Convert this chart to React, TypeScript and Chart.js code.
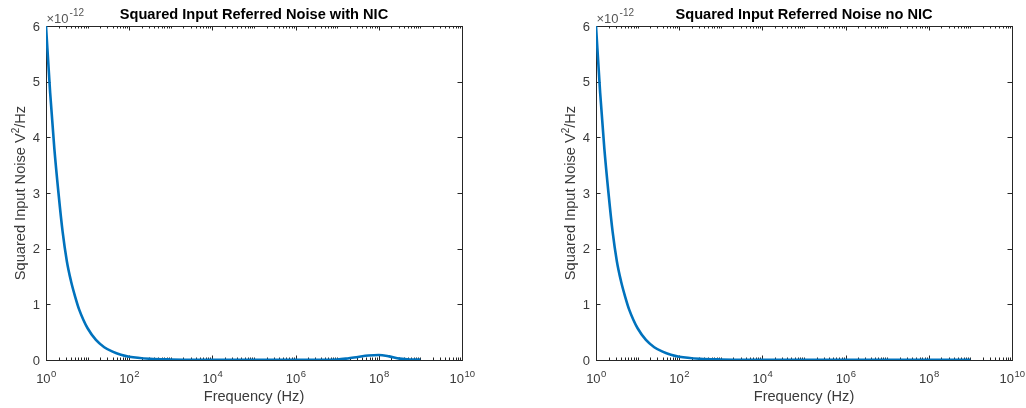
import React, { useEffect, useRef } from "react";
import { Chart, registerables } from "chart.js";

Chart.register(...registerables);

// ---- data (noise values in units of 1e-12 V^2/Hz) ----
const FREQ_HZ = [
  1, 1.259, 1.585, 1.995, 2.512, 3.162, 3.981, 5.012, 6.31, 7.943, 10, 15.85, 25.12, 39.81, 63.1, 100,
  316.2, 1000, 1e4, 1e5, 1e6, 1e7, 1.778e7, 3.162e7, 5.623e7, 1e8, 1.778e8, 3.162e8, 5.623e8, 1e9,
];
const NOISE_WITH_NIC = [
  6.0, 4.8, 3.8, 3.0, 2.3, 1.78, 1.42, 1.14, 0.9, 0.72, 0.57, 0.36, 0.23, 0.15, 0.095, 0.06,
  0.022, 0.01, 0.005, 0.004, 0.004, 0.01, 0.028, 0.055, 0.08, 0.09, 0.065, 0.025, 0.008, 0.006,
];
const NOISE_NO_NIC = [
  6.0, 4.8, 3.8, 3.0, 2.3, 1.78, 1.42, 1.14, 0.9, 0.72, 0.57, 0.36, 0.23, 0.15, 0.095, 0.06,
  0.022, 0.01, 0.005, 0.004, 0.004, 0.004, 0.004, 0.004, 0.004, 0.004, 0.004, 0.004, 0.004, 0.004,
];
const X_MAJOR_EXP = [0, 2, 4, 6, 8, 10];
const Y_TICKS = [0, 1, 2, 3, 4, 5, 6];
const TITLES = ["Squared Input Referred Noise with NIC", "Squared Input Referred Noise no NIC"];
const X_LABEL = "Frequency (Hz)";
const Y_EXPONENT = "-12";

const FONT = "'Liberation Sans', Arial, Helvetica, sans-serif";
const AXIS_COLOR = "#262626";
const TEXT_COLOR = "#3a3a3a";
const LINE_COLOR = "#0072BD";

const decorPlugin = {
  id: "matlabDecor",
  beforeDatasetsDraw(chart: any) {
    const { ctx, chartArea: a, scales } = chart;
    const xs = scales.x;
    const ys = scales.y;
    ctx.save();
    ctx.strokeStyle = AXIS_COLOR;
    ctx.lineWidth = 1;
    ctx.strokeRect(Math.round(a.left) + 0.5, Math.round(a.top) + 0.5, Math.round(a.right - a.left), Math.round(a.bottom - a.top));
    ctx.beginPath();
    for (let d = 0; d < 10; d++) {
      for (let m = 1; m <= 9; m++) {
        const v = m * Math.pow(10, d);
        const px = Math.round(xs.getPixelForValue(v)) + 0.5;
        const major = m === 1 && d % 2 === 0;
        const len = major ? 4.5 : 2.5;
        ctx.moveTo(px, a.bottom);
        ctx.lineTo(px, a.bottom - len);
        ctx.moveTo(px, a.top);
        ctx.lineTo(px, a.top + len);
      }
    }
    for (const t of Y_TICKS) {
      const py = Math.round(ys.getPixelForValue(t)) + 0.5;
      ctx.moveTo(a.left, py);
      ctx.lineTo(a.left + 4.5, py);
      ctx.moveTo(a.right, py);
      ctx.lineTo(a.right - 4.5, py);
    }
    ctx.stroke();
    ctx.restore();
  },
  afterDraw(chart: any, _args: any, opts: any) {
    const { ctx, chartArea: a, scales } = chart;
    const xs = scales.x;
    const ys = scales.y;
    ctx.save();
    ctx.fillStyle = TEXT_COLOR;
    ctx.font = `13px ${FONT}`;
    ctx.textAlign = "right";
    ctx.textBaseline = "middle";
    for (const t of Y_TICKS) {
      ctx.fillText(String(t), a.left - 6, ys.getPixelForValue(t) + 1);
    }
    ctx.textBaseline = "alphabetic";
    ctx.textAlign = "left";
    for (const e of X_MAJOR_EXP) {
      const cx = xs.getPixelForValue(Math.pow(10, e));
      ctx.font = `13px ${FONT}`;
      const wb = ctx.measureText("10").width;
      ctx.font = `9.5px ${FONT}`;
      const ws = ctx.measureText(String(e)).width;
      const x0 = cx - (wb + ws) / 2;
      ctx.font = `13px ${FONT}`;
      ctx.fillText("10", x0, a.bottom + 23);
      ctx.font = `9.5px ${FONT}`;
      ctx.fillText(String(e), x0 + wb + 0.5, a.bottom + 17);
    }
    ctx.font = `14.6px ${FONT}`;
    ctx.textAlign = "center";
    ctx.fillText(X_LABEL, (a.left + a.right) / 2, a.bottom + 41);
    ctx.save();
    ctx.translate(a.left - 21, (a.top + a.bottom) / 2);
    ctx.rotate(-Math.PI / 2);
    ctx.textAlign = "left";
    const p1 = "Squared Input Noise V";
    const p2 = "2";
    const p3 = "/Hz";
    ctx.font = `14.6px ${FONT}`;
    const w1 = ctx.measureText(p1).width;
    const w3 = ctx.measureText(p3).width;
    ctx.font = `10px ${FONT}`;
    const w2 = ctx.measureText(p2).width;
    let x = -(w1 + w2 + w3) / 2;
    ctx.font = `14.6px ${FONT}`;
    ctx.fillText(p1, x, 0);
    x += w1;
    ctx.font = `10px ${FONT}`;
    ctx.fillText(p2, x, -6);
    x += w2;
    ctx.font = `14.6px ${FONT}`;
    ctx.fillText(p3, x, 0);
    ctx.restore();
    // exponent marker
    ctx.fillStyle = "#555555";
    ctx.textAlign = "left";
    ctx.font = `13px ${FONT}`;
    ctx.fillText("\u00d710", a.left + 0.5, a.top - 3.5);
    const wx = ctx.measureText("\u00d710").width;
    ctx.font = `10px ${FONT}`;
    ctx.fillText(Y_EXPONENT, a.left + 1.5 + wx, a.top - 10.5);
    // title
    ctx.fillStyle = "#000000";
    ctx.font = `bold 14.6px ${FONT}`;
    ctx.textAlign = "center";
    ctx.fillText(opts.title, (a.left + a.right) / 2, 19);
    ctx.restore();
  },
};

function NoisePlot({ values, title, padLeft, padRight }: { values: number[]; title: string; padLeft: number; padRight: number }) {
  const ref = useRef<HTMLCanvasElement | null>(null);
  useEffect(() => {
    if (!ref.current) return;
    const data = FREQ_HZ.map((f, i) => ({ x: f, y: values[i] }));
    const chart = new Chart(ref.current, {
      type: "line",
      data: {
        datasets: [
          {
            data,
            borderColor: LINE_COLOR,
            borderWidth: 2.6,
            pointRadius: 0,
            fill: false,
            cubicInterpolationMode: "monotone",
          },
        ],
      },
      options: {
        responsive: false,
        animation: false,
        devicePixelRatio: 1,
        layout: { padding: { left: padLeft, right: padRight, top: 26, bottom: 0 } },
        plugins: {
          legend: { display: false },
          tooltip: { enabled: false },
          title: { display: false },
          matlabDecor: { title },
        } as any,
        scales: {
          x: {
            type: "logarithmic",
            min: 1,
            max: 1e10,
            grid: { display: false },
            border: { display: false },
            ticks: { display: false },
            afterFit: (s: any) => {
              s.height = 48;
            },
          },
          y: {
            type: "linear",
            min: 0,
            max: 6,
            grid: { display: false },
            border: { display: false },
            ticks: { display: false },
            afterFit: (s: any) => {
              s.width = 46;
            },
          },
        },
      },
      plugins: [decorPlugin],
    } as any);
    return () => chart.destroy();
  }, [values, title, padLeft, padRight]);
  return <canvas ref={ref} width={513} height={408} style={{ width: 513, height: 408, display: "block" }} />;
}

export default function App() {
  return (
    <div style={{ position: "absolute", left: 0, top: 0, width: 1026, height: 408, background: "#fff" }}>
      <div style={{ position: "absolute", left: 0, top: 0 }}>
        <NoisePlot values={NOISE_WITH_NIC} title={TITLES[0]} padLeft={0} padRight={51} />
      </div>
      <div style={{ position: "absolute", left: 513, top: 0 }}>
        <NoisePlot values={NOISE_NO_NIC} title={TITLES[1]} padLeft={37} padRight={14} />
      </div>
    </div>
  );
}
